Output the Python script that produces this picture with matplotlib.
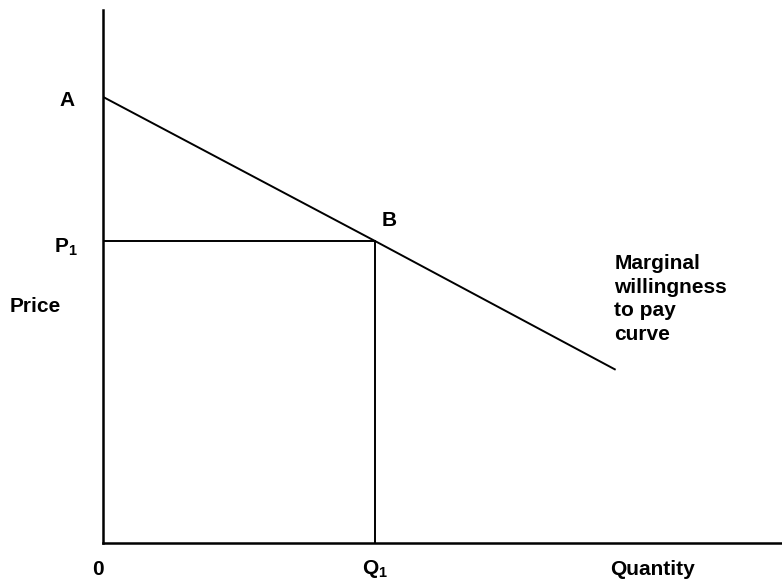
import matplotlib
matplotlib.use("Agg")
import matplotlib.pyplot as plt

plt.rcParams['font.family'] = ['Liberation Sans', 'DejaVu Sans']
plt.rcParams['mathtext.fontset'] = 'custom'
plt.rcParams['mathtext.rm'] = 'Liberation Sans:bold'
plt.rcParams['mathtext.it'] = 'Liberation Sans:bold'
plt.rcParams['mathtext.bf'] = 'Liberation Sans:bold'

# Marginal willingness to pay curve (quantity, price)
curve_q = [0.0, 4.0, 7.55]
curve_p = [8.37, 5.67, 3.25]

# point B on the curve
q1 = 4.0
p1 = 5.67

fig = plt.figure(figsize=(7.82, 5.81), dpi=100)
ax = fig.add_axes([103 / 782, 38 / 581, 679 / 782, 533 / 581])
ax.set_xlim(0, 10)
ax.set_ylim(0, 10)

ax.plot(curve_q, curve_p, color='black', lw=1.4, solid_capstyle='butt')
ax.plot([0, q1], [p1, p1], color='black', lw=1.4)
ax.plot([q1, q1], [0, p1], color='black', lw=1.4)

for side in ['top', 'right']:
    ax.spines[side].set_visible(False)
for side in ['left', 'bottom']:
    ax.spines[side].set_linewidth(1.8)
ax.set_xticks([])
ax.set_yticks([])

fs = 15
kw = dict(fontsize=fs, fontweight='bold', clip_on=False)
ax.text(-0.53, 8.3, "A", ha='center', va='center', **kw)
ax.text(-0.55, p1 - 0.12, "P$_1$", ha='center', va='center', **kw)
ax.text(-1.0, 4.43, "Price", ha='center', va='center', **kw)
ax.text(4.22, 6.06, "B", ha='center', va='center', **kw)
ax.text(7.53, 5.42, "Marginal\nwillingness\nto pay\ncurve", ha='left', va='top',
        linespacing=1.3, **kw)
ax.text(-0.07, -0.5, "0", ha='center', va='center', **kw)
ax.text(q1, -0.48, "Q$_1$", ha='center', va='center', **kw)
ax.text(8.1, -0.5, "Quantity", ha='center', va='center', **kw)

fig.savefig("out.png", dpi=100)
